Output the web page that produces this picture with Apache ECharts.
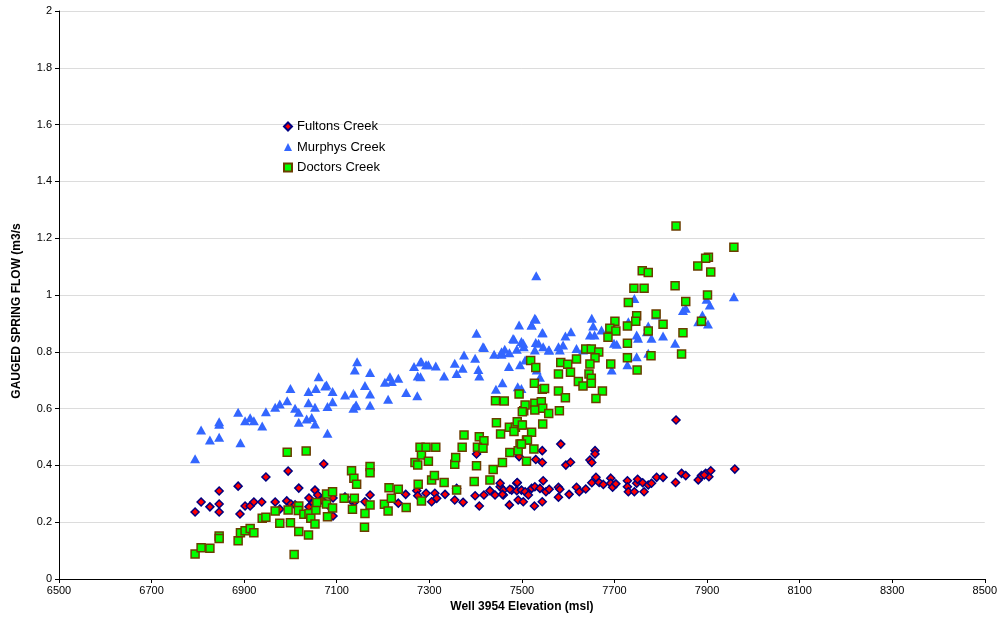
<!DOCTYPE html>
<html>
<head>
<meta charset="utf-8">
<script src="https://cdn.jsdelivr.net/npm/echarts@6/dist/echarts.min.js"></script>
<style>
html,body{margin:0;padding:0;background:#fff;}
#chart{width:1000px;height:623px;}
</style>
</head>
<body>
<div id="chart"></div>
<script>
var seriesNames = ['Fultons Creek', 'Murphys Creek', 'Doctors Creek'];
var xAxisTitle = 'Well 3954 Elevation (msl)';
var yAxisTitle = 'GAUGED SPRING FLOW (m3/s';

var fultonsData = [
[6794,0.236],[6807,0.271],[6826,0.254],[6846,0.310],[6846,0.264],[6846,0.236],[6887,0.327],[6891,0.229],[6902,0.257],[6913,0.257],[6921,0.271],[6938,0.271],[6947,0.359],[6967,0.271],[6977,0.246],[6992,0.275],[6995,0.380],[7001,0.264],[7010,0.261],[7018,0.320],[7040,0.285],[7040,0.254],[7053,0.313],[7059,0.296],[7072,0.405],[7092,0.285],[7092,0.222],[7118,0.289],[7135,0.271],[7049,0.268],[7068,0.278],[7081,0.261],
[7172,0.296],[7139,0.272],[7161,0.272],[7249,0.298],[7233,0.267],[7273,0.311],[7275,0.293],[7293,0.302],[7305,0.272],[7312,0.302],[7316,0.284],[7334,0.298],[7359,0.319],[7355,0.278],[7373,0.270],[7399,0.293],[7408,0.257],[7418,0.296],[7431,0.311],[7442,0.296],[7453,0.325],[7460,0.296],[7473,0.261],[7478,0.313],[7489,0.337],[7489,0.311],
[7402,0.440],[7584,0.475],[7544,0.452],[7494,0.431],[7530,0.421],[7544,0.410],[7595,0.401],[7605,0.411],[7658,0.452],[7658,0.440],[7647,0.419],[7651,0.410],
[7453,0.337],[7490,0.340],[7460,0.313],[7474,0.316],[7458,0.298],[7499,0.313],[7507,0.307],[7514,0.296],[7521,0.319],[7528,0.325],[7539,0.319],[7546,0.346],[7552,0.307],[7559,0.316],[7492,0.278],[7503,0.272],[7527,0.257],[7544,0.272],[7579,0.323],[7582,0.316],[7579,0.288],[7602,0.298],[7618,0.323],[7624,0.307],[7638,0.317],[7651,0.339],[7660,0.358],[7667,0.340],[7676,0.333],[7692,0.355],[7692,0.337],[7696,0.323],[7703,0.335],[7728,0.346],[7728,0.325],[7730,0.307],[7743,0.307],[7748,0.337],[7750,0.351],[7761,0.339],[7764,0.307],[7773,0.331],[7780,0.337],[7791,0.358],[7805,0.358],[7832,0.340],[7845,0.372],[7854,0.364],[7881,0.349],[7888,0.364],[7897,0.372],[7904,0.360],[7908,0.381],[7894,0.366],[7833,0.560],[7960,0.387]
];

var murphysData = [
[6794,0.423],[6807,0.525],[6826,0.489],[6846,0.499],[6846,0.554],[6846,0.545],[6892,0.480],[6887,0.587],[6902,0.557],[6913,0.568],[6921,0.557],[6939,0.539],[6947,0.589],[6967,0.605],[6977,0.616],[6993,0.628],[7010,0.601],[7018,0.587],[7018,0.552],[7035,0.563],[7046,0.569],[7053,0.546],[7039,0.621],[7053,0.605],[7080,0.513],[7000,0.671],[7039,0.660],[7055,0.671],[7075,0.680],[7091,0.660],[7080,0.607],[7091,0.624],[7118,0.648],[7136,0.654],[7136,0.601],[7142,0.613],
[7144,0.765],[7139,0.736],[7172,0.727],[7061,0.712],[7078,0.683],[7161,0.681],[7172,0.651],[7204,0.693],[7215,0.712],[7219,0.695],[7233,0.707],[7211,0.633],[7172,0.612],[7141,0.610],[7250,0.657],[7274,0.645],[7267,0.748],[7281,0.765],[7293,0.754],[7275,0.715],[7281,0.712],
[7531,1.068],[7402,0.865],[7494,0.894],[7521,0.894],[7530,0.915],[7545,0.867],[7483,0.844],[7499,0.836],[7489,0.809],[7504,0.818],[7530,0.833],[7546,0.818],[7558,0.806],[7528,0.806],[7579,0.818],[7582,0.806],[7594,0.856],[7606,0.871],[7418,0.815],[7440,0.791],[7456,0.791],[7463,0.809],[7473,0.797],[7375,0.789],[7399,0.777],[7355,0.760],[7372,0.742],[7314,0.750],[7298,0.754],[7283,0.765],[7332,0.715],[7359,0.724],[7408,0.715],[7406,0.738],[7472,0.748],[7496,0.754],[7444,0.668],[7458,0.691],[7491,0.677],[7539,0.710],[7651,0.918],[7654,0.891],[7657,0.859],[7672,0.877],[7647,0.859],[7618,0.812],[7632,0.806],[7699,0.830],[7694,0.736],[7730,0.906],[7743,0.988],[7748,0.859],[7751,0.848],[7773,0.891],[7780,0.848],[7805,0.856],[7748,0.783],[7728,0.754],[7790,0.930],[7773,0.795],[7701,0.877],
[7848,0.945],[7854,0.953],[7881,0.906],[7831,0.830],[7770,0.871],[7705,0.827],[7589,0.824],[7559,0.806],[7544,0.867],[7528,0.918],[7521,0.894],[7536,0.830],[7503,0.830],[7499,0.671],[7507,0.771],[7532,0.736],
[7958,0.994],[7899,0.985],[7906,0.965],[7890,0.930],[7902,0.898],
[7416,0.818],[7456,0.800],[7481,0.847]
];

var doctorsData = [
[6794,0.088],[6807,0.110],[6826,0.108],[6846,0.151],[6846,0.143],[6887,0.135],[6892,0.163],[6902,0.170],[6913,0.178],[6921,0.163],[6939,0.214],[6947,0.217],[6967,0.239],[6977,0.196],[6993,0.446],[7034,0.451],[6995,0.243],[7000,0.198],[7008,0.086],[7018,0.167],[7039,0.155],[7018,0.257],[7017,0.241],[7029,0.228],[7040,0.231],[7044,0.214],[7053,0.194],[7055,0.243],[7057,0.269],[7078,0.299],[7091,0.307],[7078,0.264],[7091,0.250],[7080,0.219],[7116,0.284],[7134,0.246],[7138,0.284],[7132,0.381],[7137,0.355],[7143,0.334],
[7172,0.396],[7172,0.374],[7172,0.261],[7161,0.231],[7160,0.182],[7203,0.263],[7211,0.239],[7218,0.284],[7213,0.321],[7233,0.316],[7250,0.252],[7276,0.334],[7283,0.275],[7305,0.349],[7311,0.364],[7332,0.340],[7359,0.313],[7397,0.343],[7431,0.349],[7269,0.410],[7275,0.401],[7283,0.437],[7298,0.415],[7280,0.464],[7293,0.464],[7314,0.464],[7371,0.464],[7375,0.507],[7355,0.404],[7357,0.428],[7402,0.399],[7438,0.386],[7458,0.410],[7474,0.445],[7408,0.501],[7418,0.487],[7404,0.464],[7416,0.460],[7443,0.628],[7462,0.627],[7445,0.550],[7454,0.511],[7473,0.534],[7486,0.534],[7483,0.519],[7499,0.542],[7490,0.554],[7496,0.475],[7492,0.452],[7504,0.592],[7507,0.613],[7494,0.651],[7510,0.489],
[7742,1.024],[7764,1.024],[7831,1.033],[7730,0.974],[7854,0.977],[7748,0.927],[7790,0.933],[7746,0.908],[7805,0.897],[7701,0.908],[7690,0.883],[7703,0.873],[7728,0.891],[7773,0.873],[7848,0.867],[7686,0.851],[7728,0.830],[7845,0.792],[7779,0.786],[7728,0.779],[7749,0.736],[7638,0.810],[7650,0.810],[7666,0.799],[7658,0.779],[7618,0.775],[7647,0.757],[7692,0.757],[7584,0.762],[7599,0.756],[7519,0.769],[7530,0.745],[7579,0.722],[7605,0.728],[7645,0.722],[7650,0.707],[7650,0.689],[7622,0.695],[7632,0.680],[7674,0.662],[7660,0.636],[7527,0.689],[7544,0.668],[7549,0.671],[7579,0.662],[7594,0.638],[7528,0.619],[7542,0.624],[7528,0.595],[7545,0.601],[7558,0.583],[7581,0.592],[7501,0.589],[7501,0.542],[7545,0.546],[7521,0.517],[7512,0.489],[7499,0.475],[7526,0.458],[7510,0.415],
[7958,1.168],[7903,1.133],[7897,1.129],[7880,1.102],[7908,1.081],[7901,1.000],[7888,0.908],[7833,1.243],[7760,1.085],[7773,1.079]
];

var chart = echarts.init(document.getElementById('chart'), null, {renderer: 'canvas'});
var fontFam = '"Liberation Sans", Arial, sans-serif';
var option = {
  animation: false,
  backgroundColor: '#ffffff',
  textStyle: {fontFamily: fontFam},
  grid: {left: 59, right: 15, top: 11, bottom: 44, containLabel: false},
  legend: {
    orient: 'vertical',
    left: 278,
    top: 115,
    itemWidth: 8,
    itemHeight: 8,
    itemGap: 7.5,
    textStyle: {fontSize: 13, color: '#000', fontFamily: fontFam},
    data: seriesNames
  },
  xAxis: {
    type: 'value',
    min: 6500, max: 8500, interval: 200,
    name: xAxisTitle,
    nameLocation: 'middle',
    nameGap: 14,
    nameTextStyle: {fontSize: 12, fontWeight: 'bold', color: '#000', fontFamily: fontFam},
    axisLine: {onZero: false, lineStyle: {color: '#000', width: 1}},
    axisTick: {show: true, length: 4, inside: false, lineStyle: {color: '#000'}},
    axisLabel: {fontSize: 11, color: '#000', margin: 6, fontFamily: fontFam,
      formatter: function (v) { return String(v); }},
    splitLine: {show: false}
  },
  yAxis: {
    type: 'value',
    min: 0, max: 2, interval: 0.2,
    name: yAxisTitle,
    nameLocation: 'middle',
    nameGap: 36,
    nameRotate: 90,
    nameTextStyle: {fontSize: 12, fontWeight: 'bold', color: '#000', fontFamily: fontFam, padding: [0, 32, 0, 0]},
    axisLine: {show: true, lineStyle: {color: '#000', width: 1}},
    axisTick: {show: true, length: 4, inside: false, lineStyle: {color: '#000'}},
    axisLabel: {fontSize: 11, color: '#000', margin: 7, fontFamily: fontFam},
    splitLine: {show: true, lineStyle: {color: '#dcdcdc', width: 1}}
  },
  series: [
    {
      name: seriesNames[0], type: 'scatter', data: fultonsData,
      symbol: 'diamond', symbolSize: 8,
      itemStyle: {color: '#ff0000', borderColor: '#000080', borderWidth: 1.5, opacity: 1}
    },
    {
      name: seriesNames[1], type: 'scatter', data: murphysData,
      symbol: 'triangle', symbolSize: [10, 9],
      itemStyle: {color: '#3366ff', opacity: 1}
    },
    {
      name: seriesNames[2], type: 'scatter', data: doctorsData,
      symbol: 'rect', symbolSize: 8,
      itemStyle: {color: '#00ff00', borderColor: '#6b3d00', borderWidth: 1.5, opacity: 1}
    }
  ]
};
chart.setOption(option);
</script>
</body>
</html>
